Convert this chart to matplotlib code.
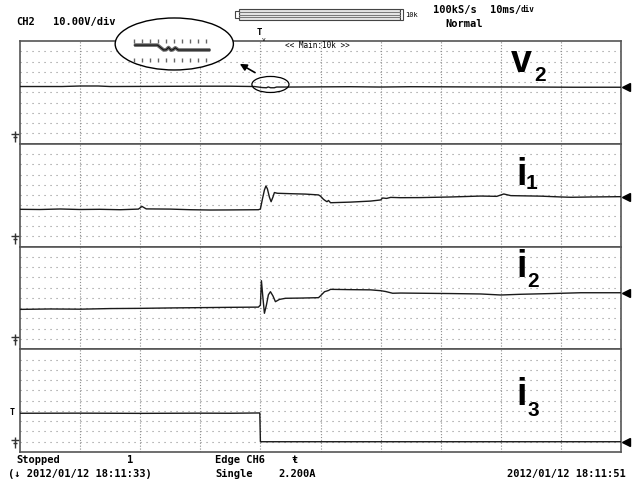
import matplotlib
matplotlib.use("Agg")
import numpy as np
import matplotlib.pyplot as plt
from matplotlib.patches import Ellipse, Rectangle
from matplotlib.path import Path

# time in ms (trigger at 0, 10 ms/div), amplitude in grid rows (10 rows per panel)
v2_t = [-40, -33, -30, -27, -25, -10, -5, -1, 0.3, 1.0, 1.3, 1.7, 2.3, 2.7, 5, 15, 20, 25, 35, 45, 52, 60]
v2_v = [5.57, 5.57, 5.62, 5.62, 5.57, 5.60, 5.60, 5.57, 5.47, 5.45, 5.53, 5.45, 5.45, 5.52,
        5.52, 5.55, 5.52, 5.55, 5.53, 5.52, 5.50, 5.50]

i1_t = [-40, -36.7, -33.3, -30, -26.7, -23.3, -20.3, -19.7, -19, -15, -11.7, -8.3, -5, -0.33,
        0, 0.33, 0.67, 0.92, 1.17, 1.5, 1.78, 2.08, 2.33, 2.83, 5, 7.5, 9.67, 10, 10.5, 10.83,
        11.08, 11.33, 11.67, 15, 18.33, 20, 20.33, 21, 21.67, 23.33, 26.67, 31.67, 36.67,
        39.33, 40.5, 41.67, 46.67, 50, 51.67, 55, 60]
i1_v = [3.62, 3.60, 3.65, 3.60, 3.62, 3.58, 3.64, 3.90, 3.66, 3.64, 3.58, 3.55, 3.56, 3.58,
        3.65, 4.6, 5.5, 5.89, 5.6, 4.8, 4.36, 4.8, 5.25, 5.18, 5.14, 5.10, 5.02, 4.9, 4.59, 4.45,
        4.36, 4.48, 4.26, 4.32, 4.42, 4.53, 4.72, 4.68, 4.78, 4.75, 4.76, 4.82, 4.91,
        4.88, 5.11, 4.95, 4.90, 4.82, 4.79, 4.82, 4.85]

i2_t = [-40, -35, -30, -25, -20, -15, -10, -5, -0.33, 0, 0.17, 0.42, 0.67, 1, 1.33, 1.67,
        2.08, 2.5, 3.17, 4.17, 6.67, 9.67, 10, 10.67, 11.33, 11.67, 15, 18.33, 20, 20.83, 22,
        23.33, 26.67, 31.67, 36.67, 40, 43.33, 48.33, 53.33, 60]
i2_v = [3.88, 3.92, 3.90, 3.96, 3.98, 4.02, 4.05, 4.08, 4.10, 4.3, 6.67, 5.0, 3.50, 4.3, 5.3,
        5.60, 5.2, 4.63, 4.85, 4.96, 4.98, 5.02, 5.2, 5.60, 5.72, 5.83, 5.80, 5.78, 5.70, 5.62,
        5.45, 5.47, 5.45, 5.42, 5.38, 5.28, 5.35, 5.42, 5.50, 5.50]

i3_t = [-40, -30, -20, -10, -5, -0.1, 0, 60]
i3_v = [3.77, 3.78, 3.76, 3.78, 3.77, 3.80, 1.0, 1.0]

# zoomed view of v2 shown in the callout
inset_t = [-2.0, -0.1, 0.4, 0.6, 0.8, 1.0, 1.15, 1.35, 1.6, 4.2]
inset_v = [0.735, 0.735, 0.49, 0.50, 0.615, 0.48, 0.50, 0.60, 0.49, 0.49]

traces = [(v2_t, v2_v), (i1_t, i1_v), (i2_t, i2_v), (i3_t, i3_v)]
names = [("v", "2"), ("i", "1"), ("i", "2"), ("i", "3")]
ground = [0.65, 0.75, 0.9, 0.85]
trig_level = 3.8

W, H = 637, 484
mono = "DejaVu Sans Mono"


def fx(x):
    return x / W


def fy(y):
    return 1 - y / H


gnd = Path([(-1, 0.7), (1, 0.7), (0, 1.4), (0, -1.2), (-0.6, 0.0), (0.6, 0.0)],
           [Path.MOVETO, Path.LINETO, Path.MOVETO, Path.LINETO, Path.MOVETO, Path.LINETO])

fig = plt.figure(figsize=(W / 100, H / 100), dpi=100)

top, bot = 41, 452
ph = (bot - top) / 4
axes = []
for k in range(4):
    ytop = top + k * ph
    ax = fig.add_axes([fx(20), fy(ytop + ph), 601 / W, ph / H])
    t, v = traces[k]
    ax.set_xlim(-40, 60)
    ax.set_ylim(0, 10)
    ax.set_xticks(np.arange(-30, 60, 10))
    ax.set_yticks(np.arange(1, 10))
    ax.tick_params(length=0, labelbottom=False, labelleft=False)
    ax.grid(axis="x", color="#8f8f8f", lw=0.8, ls=(0, (1, 1.6)))
    ax.grid(axis="y", color="#8f8f8f", lw=0.8, ls=(0, (1, 4.4)))
    for s in ax.spines.values():
        s.set_color("#555555")
        s.set_linewidth(1.2)
    ax.plot(t, v, color="#1a1a1a", lw=1.0, zorder=3)
    # level marker on the right
    ax.plot([60.9], [v[-1]], marker="<", ms=6, color="black", clip_on=False, ls="none")
    # ground symbol on the left
    ax.plot([-0.009], [ground[k]], marker=gnd, ms=8, mew=1, color="#333333", ls="none",
            transform=ax.get_yaxis_transform(), clip_on=False)
    axes.append(ax)

# trigger level marker on CH6
axes[3].text(-0.013, trig_level, "T", fontsize=6, fontweight="bold", family=mono,
             ha="center", va="center", transform=axes[3].get_yaxis_transform())

# labels
lab_pos = [(511, 72, 534, 81), (516, 185, 526, 189), (516, 277, 527, 287), (516, 405, 528, 416)]
for (m, s), (x1, y1, x2, y2) in zip(names, lab_pos):
    fig.text(fx(x1), fy(y1), m, fontsize=27, fontweight="bold", family="Liberation Sans",
             va="baseline", ha="left")
    fig.text(fx(x2), fy(y2), s, fontsize=15, fontweight="bold", family="Liberation Sans",
             va="baseline", ha="left")

# callout on v2
ax1 = axes[0]
ax1.add_patch(Ellipse((-14.33, 9.71), 19.67, 5.06, facecolor="white", edgecolor="black",
                      lw=1.0, clip_on=False, zorder=4))
ax1.add_patch(Ellipse((1.67, 5.77), 6.17, 1.56, facecolor="none", edgecolor="black",
                      lw=0.9, clip_on=False, zorder=4))
ax1.annotate("", xy=(-3.83, 7.91), xytext=(-0.5, 6.79), annotation_clip=False,
             arrowprops=dict(arrowstyle="-|>", color="black", lw=1.2, mutation_scale=10))

ins = ax1.inset_axes([-21.67, 7.88, 14.0, 2.43], transform=ax1.transData, zorder=5)
ins.set_xlim(-2.33, 4.53)
ins.set_ylim(-0.15, 1.1)
ins.axis("off")
ins.plot(inset_t, inset_v, color="#6a6a6a", lw=2.6, solid_capstyle="butt")
ins.plot(inset_t, inset_v, color="#111111", lw=0.8)
tk = np.arange(-2.0, 4.0, 0.65)
ins.plot(tk, np.full(len(tk), 0.935), marker="|", ms=3.5, mew=1.0, color="#666666", ls="none")
ins.plot(tk, np.full(len(tk), -0.015), marker="|", ms=3.5, mew=1.0, color="#666666", ls="none")

# header
fig.text(fx(16), fy(22), "CH2", family=mono, fontsize=7.5, fontweight="bold", va="center")
fig.text(fx(53), fy(22), "10.00V/div", family=mono, fontsize=7.5, fontweight="bold", va="center")
fig.text(fx(433), fy(10), "100kS/s", family=mono, fontsize=7.5, fontweight="bold", va="center")
fig.text(fx(490), fy(10), "10ms/", family=mono, fontsize=7.5, fontweight="bold", va="center")
fig.text(fx(521), fy(10), "div", family=mono, fontsize=5.5, fontweight="bold", va="center")
fig.text(fx(445), fy(24), "Normal", family=mono, fontsize=7.5, fontweight="bold", va="center")
fig.text(fx(285), fy(46), "<< Main:10k >>", family=mono, fontsize=5.5, va="center")
fig.text(fx(259), fy(33), "T", family=mono, fontsize=6.5, fontweight="bold", va="center",
         ha="center")
fig.text(fx(264), fy(39.5), "v", family=mono, fontsize=4.5, va="center", ha="center")

# memory bar
fig.add_artist(Rectangle((fx(239), fy(19.5)), 161 / W, 10 / H, facecolor="#e4e4e4",
                         edgecolor="#444444", lw=0.8))
fig.add_artist(Rectangle((fx(235), fy(18)), 4 / W, 7 / H, facecolor="white",
                         edgecolor="#444444", lw=0.8))
for yy in (12, 14.5, 17):
    fig.add_artist(plt.Line2D([fx(239), fx(400)], [fy(yy), fy(yy)], color="#777777", lw=0.7))
fig.add_artist(Rectangle((fx(400), fy(19.5)), 3 / W, 10 / H, facecolor="white",
                         edgecolor="#444444", lw=0.8))
fig.text(fx(405), fy(15), "10k", family=mono, fontsize=5, va="center")

# footer
fig.text(fx(16), fy(460), "Stopped", family=mono, fontsize=7.5, fontweight="bold", va="center")
fig.text(fx(127), fy(460), "1", family=mono, fontsize=7.5, fontweight="bold", va="center")
fig.text(fx(8), fy(474), "(\u2193 2012/01/12 18:11:33)", family=mono, fontsize=7.5,
         fontweight="bold", va="center")
fig.text(fx(215), fy(460), "Edge CH6", family=mono, fontsize=7.5, fontweight="bold", va="center")
fig.text(fx(215), fy(474), "Single", family=mono, fontsize=7.5, fontweight="bold", va="center")
fig.text(fx(295), fy(460), "\u0167", family=mono, fontsize=7.5, fontweight="bold", va="center",
         ha="center")
fig.text(fx(278), fy(474), "2.200A", family=mono, fontsize=7.5, fontweight="bold", va="center")
fig.text(fx(507), fy(474), "2012/01/12 18:11:51", family=mono, fontsize=7.5, fontweight="bold",
         va="center")

fig.savefig("out.png", dpi=100, facecolor="white")
